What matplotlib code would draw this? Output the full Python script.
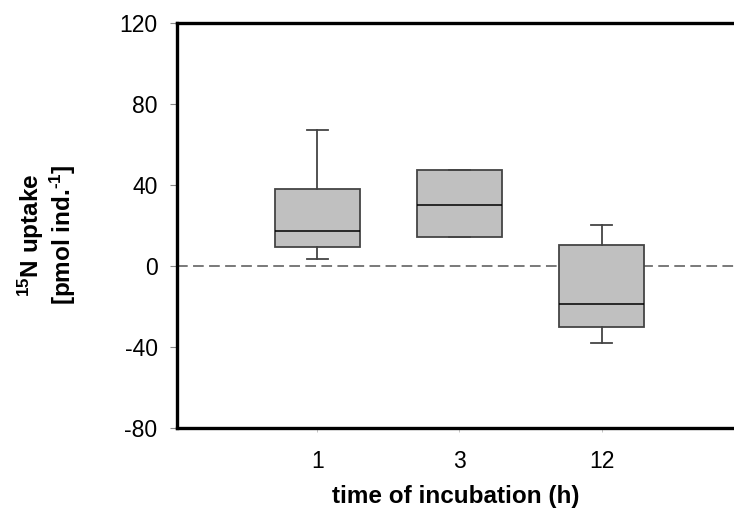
import numpy as np
import matplotlib
matplotlib.use("Agg")
import matplotlib.pyplot as plt

plt.rcParams['font.family'] = ['Liberation Sans', 'DejaVu Sans']
plt.rcParams['mathtext.fontset'] = 'custom'
plt.rcParams['mathtext.rm'] = 'Liberation Sans:bold'
plt.rcParams['mathtext.default'] = 'rm'
plt.rcParams['axes.unicode_minus'] = False

# box statistics (pmol ind.-1)
times = ['1', '3', '12']
whislo = [3.2, 14.2, -38.1]
q1 = [9.3, 14.2, -30.5]
med = [16.9, 29.9, -19.0]
q3 = [38.1, 47.3, 10.3]
whishi = [67.1, 47.3, 20.1]

stats = []
for i in range(len(times)):
    stats.append({'label': times[i], 'whislo': whislo[i], 'q1': q1[i],
                  'med': med[i], 'q3': q3[i], 'whishi': whishi[i], 'fliers': []})

fig = plt.figure(figsize=(7.34, 5.15), dpi=100)
ax = fig.add_axes([177/734, (515-427.7)/515, 1 - 177/734, 405/515])

ax.axhline(0, color='#555555', lw=1.1, dashes=(7, 3.5), zorder=1)

ax.bxp(stats, positions=[0, 1, 2], widths=0.6, showfliers=False,
       patch_artist=True, capwidths=0.15,
       boxprops=dict(facecolor='#c0c0c0', edgecolor='#444444', lw=1.3),
       medianprops=dict(color='black', lw=1.1),
       whiskerprops=dict(color='#444444', lw=1.3),
       capprops=dict(color='#444444', lw=1.3))

ax.set_xlim(-0.986, 2.93)
ax.set_ylim(-80, 120)
ax.set_yticks([-80, -40, 0, 40, 80, 120])
ax.set_xticks([0, 1, 2])
ax.set_xticklabels(times)

for s in ['left', 'top', 'bottom']:
    ax.spines[s].set_linewidth(2.4)
ax.spines['right'].set_visible(False)

ax.tick_params(axis='y', length=5, width=0.8, color='#888888', labelsize=16.5, pad=9)
ax.tick_params(axis='x', length=3, width=0.6, color='#bbbbbb', labelsize=16.5, pad=13)

ax.set_xlabel('time of incubation (h)', fontsize=17.5, fontweight='bold', labelpad=9)
ax.set_ylabel('$^{15}$N uptake\n[pmol ind.$^{\\text{-1}}$]', fontsize=17.5, fontweight='bold',
              linespacing=1.05)
ax.yaxis.set_label_coords(-0.178, 0.476)

fig.savefig('out.png', dpi=100)
